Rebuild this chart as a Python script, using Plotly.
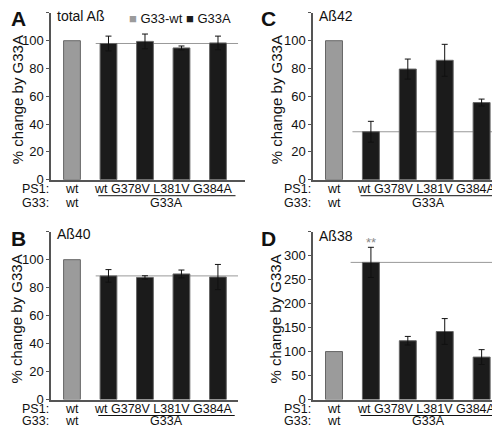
import plotly.graph_objects as go

# ---------------- data ----------------
positions = [0, 1, 2, 3, 4]
ps1_labels = ["wt", "wt", "G378V", "L381V", "G384A"]
g33_labels = ["wt", "G33A"]
legend_names = ["G33-wt", "G33A"]

total_ab = [100, 98.0, 99.5, 94.8, 98.4]
total_ab_err = [0, 5.3, 5.3, 1.4, 4.9]
ab40 = [100, 88.4, 87.3, 89.8, 87.6]
ab40_err = [0, 4.5, 1.2, 2.8, 9.0]
ab42 = [100, 34.5, 79.6, 85.9, 55.5]
ab42_err = [0, 7.5, 7.2, 11.5, 2.5]
ab38 = [100, 286, 122.6, 141.8, 88.5]
ab38_err = [0, 31.5, 9.0, 27.0, 15.5]

ticks_120 = [0, 20, 40, 60, 80, 100, 120]
ticks_350 = [0, 50, 100, 150, 200, 250, 300, 350]

W, H = 500, 426
FONT = "Arial, Liberation Sans, sans-serif"
GRAY = "#9b9b9b"
BLACK = "#1b1b1b"
EDGE = "#666666"
AXC = "#555555"

panels = [
    dict(n=1, letter="A", title="total Aß", vals=total_ab, errs=total_ab_err,
         xpx=(43, 237), ypx=(5, 175), xr=(-0.575, 4.74), yt=ticks_120,
         ref=(0.65, 4.55), grp=(0.72, 4.48), sub_dy=-3, row2=-23),
    dict(n=2, letter="B", title="Aß40", vals=ab40, errs=ab40_err,
         xpx=(43, 230), ypx=(228, 399), xr=(-0.575, 4.55), yt=ticks_120,
         ref=(0.65, 4.55), grp=(0.72, 4.46), sub_dy=-2, row2=-21),
    dict(n=3, letter="C", title="Aß42", vals=ab42, errs=ab42_err,
         xpx=(305, 497), ypx=(5, 175), xr=(-0.569, 4.634), yt=ticks_120,
         ref=(0.5, 4.42), grp=(0.72, 4.4), sub_dy=-3, row2=-23),
    dict(n=4, letter="D", title="Aß38", vals=ab38, errs=ab38_err,
         xpx=(305, 498), ypx=(228, 399), xr=(-0.569, 4.66), yt=ticks_350,
         ref=(0.45, 4.42), grp=(0.72, 4.4), sub_dy=-4, row2=-21),
]

fig = go.Figure()
annotations = []
shapes = []
layout_axes = {}
txt = dict(family=FONT, size=13, color="#111")
lab = dict(family=FONT, size=12.5, color="#111")

for p in panels:
    n = p["n"]
    xa = "x" if n == 1 else f"x{n}"
    ya = "y" if n == 1 else f"y{n}"
    vals, errs = p["vals"], p["errs"]

    fig.add_trace(go.Bar(
        x=positions[:1], y=vals[:1], xaxis=xa, yaxis=ya, width=0.46,
        marker=dict(color=GRAY, line=dict(color=EDGE, width=1)),
        name=legend_names[0], showlegend=False))
    fig.add_trace(go.Bar(
        x=positions[1:], y=vals[1:], xaxis=xa, yaxis=ya, width=0.46,
        marker=dict(color=BLACK, line=dict(color=EDGE, width=1)),
        error_y=dict(type="data", array=errs[1:], visible=True,
                     color="#111111", thickness=1, width=3),
        name=legend_names[1], showlegend=False))

    x0, x1 = p["xpx"]
    ytop, ybot = p["ypx"]
    xkey = "xaxis" if n == 1 else f"xaxis{n}"
    ykey = "yaxis" if n == 1 else f"yaxis{n}"
    yt = p["yt"]
    layout_axes[xkey] = dict(
        domain=[x0 / W, x1 / W], range=list(p["xr"]), anchor=ya,
        showline=True, linecolor=AXC, linewidth=1.5, zeroline=False,
        showgrid=False, ticks="", showticklabels=False, fixedrange=True)
    layout_axes[ykey] = dict(
        domain=[1 - ybot / H, 1 - ytop / H], range=[yt[0], yt[-1]], anchor=xa,
        showline=True, linecolor=AXC, linewidth=1.5, zeroline=False,
        showgrid=False, ticks="outside", ticklen=3, tickcolor=AXC,
        tickvals=yt, ticktext=[str(v) for v in yt[:-1]] + [""],
        tickfont=txt, fixedrange=True)

    # reference line at the G33A / PS1 wt level
    shapes.append(dict(type="line", xref=xa, yref=ya, x0=p["ref"][0], x1=p["ref"][1],
                       y0=vals[1], y1=vals[1], layer="below",
                       line=dict(color="#999999", width=1)))
    # group underline
    shapes.append(dict(type="line", xref=xa, yref=f"{ya} domain", ysizemode="pixel",
                       yanchor=0, x0=p["grp"][0], x1=p["grp"][1], y0=-16, y1=-16,
                       line=dict(color="#111", width=1)))

    # PS1 row: category labels
    annotations.append(dict(text=ps1_labels[0], xref=xa, x=positions[0], xanchor="center",
                            yref=f"{ya} domain", y=0, yanchor="middle", yshift=-9,
                            showarrow=False, font=lab))
    annotations.append(dict(text=" ".join(ps1_labels[1:]), xref=xa, x=positions[1],
                            xanchor="left", xshift=-16,
                            yref=f"{ya} domain", y=0, yanchor="middle", yshift=-9,
                            showarrow=False, font=lab))
    # row labels
    annotations.append(dict(text="PS1:", xref=f"{xa} domain", x=0, xanchor="right",
                            yref=f"{ya} domain", y=0, yanchor="middle", yshift=-9,
                            showarrow=False, font=lab))
    annotations.append(dict(text="G33:", xref=f"{xa} domain", x=0, xanchor="right",
                            yref=f"{ya} domain", y=0, yanchor="middle", yshift=p["row2"],
                            showarrow=False, font=lab))
    annotations.append(dict(text=g33_labels[0], xref=xa, x=positions[0], xanchor="center",
                            yref=f"{ya} domain", y=0, yanchor="middle", yshift=p["row2"],
                            showarrow=False, font=lab))
    annotations.append(dict(text=g33_labels[1], xref=xa, x=(p["grp"][0] + p["grp"][1]) / 2,
                            xanchor="center", yref=f"{ya} domain", y=0, yanchor="middle",
                            yshift=p["row2"], showarrow=False, font=lab))
    # y title
    annotations.append(dict(text="% change by G33A", textangle=-90, xref=f"{xa} domain",
                            x=0, xanchor="center", xshift=-34 if n in (1, 2) else -37,
                            yref=f"{ya} domain", y=0.5, yanchor="middle", yshift=-4,
                            showarrow=False, font=dict(family=FONT, size=15, color="#111")))
    # panel subtitle
    annotations.append(dict(text=p["title"], xref=f"{xa} domain", x=0, xanchor="left",
                            xshift=4, yref=f"{ya} domain", y=1, yanchor="middle",
                            yshift=p["sub_dy"], showarrow=False,
                            font=dict(family=FONT, size=14, color="#111")))
    # panel letter
    annotations.append(dict(text=f"<b>{p['letter']}</b>", xref="paper",
                            x=(1 if n in (1, 2) else 251) / W, xanchor="left",
                            yref="paper", y=1 - (11 if n in (1, 3) else 235) / H,
                            yanchor="middle", showarrow=False,
                            font=dict(family=FONT, size=21, color="#111")))

# significance mark over D wt
annotations.append(dict(text="**", xref="x4", x=positions[1], xanchor="center",
                        yref="y4", y=328, yanchor="middle", showarrow=False,
                        font=dict(family=FONT, size=13, color="#888")))

# legend (panel A)
annotations.append(dict(
    text=f'<span style="color:{GRAY}">■</span> {legend_names[0]} '
         f'<span style="color:{BLACK}">■</span> {legend_names[1]}',
    xref="paper", x=119 / W, xanchor="left", yref="paper", y=1 - 11 / H,
    yanchor="middle", showarrow=False, font=txt))

fig.update_layout(
    width=W, height=H, margin=dict(l=0, r=0, t=0, b=0),
    paper_bgcolor="white", plot_bgcolor="white",
    barmode="overlay", showlegend=False,
    annotations=annotations, shapes=shapes, **layout_axes)

fig.write_html("out.html")
